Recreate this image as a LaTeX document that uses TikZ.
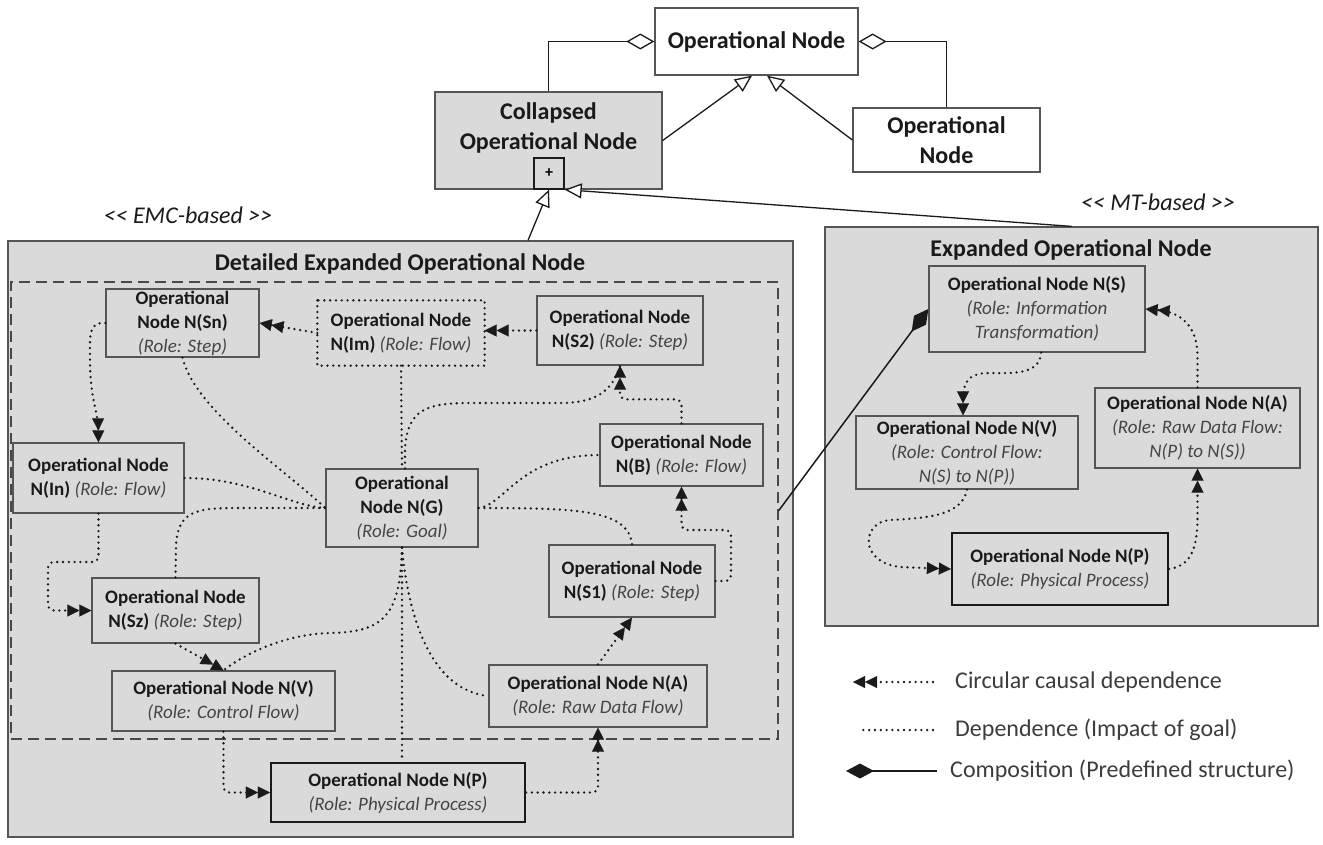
\documentclass[tikz,border=0pt]{standalone}
\usepackage{fontspec}
\setmainfont{Carlito}
\usetikzlibrary{arrows.meta}
\definecolor{panelc}{HTML}{DADADA}
\definecolor{bordc}{HTML}{555555}
\definecolor{txtc}{HTML}{1A1A1A}
\definecolor{rolec}{HTML}{454545}
\newcommand{\rl}[1]{{\mdseries\itshape\color{rolec}#1}}
\begin{document}
\begin{tikzpicture}[x=1pt,y=-1pt,
  dotl/.style={draw=txtc, line width=2.6pt, dash pattern=on 0pt off 5.8pt, line cap=round},
  dbl/.style={-{Triangle[length=12pt,width=12pt,line width=0.1pt]Triangle[length=12pt,width=12pt,line width=0.1pt]}},
  dep/.style={dotl},
  causal/.style={dotl, dbl},
  panel/.style={draw=bordc, fill=panelc, line width=1.3pt, inner sep=0pt},
  opn/.style={draw=bordc, fill=panelc, line width=1.3pt, align=center, inner sep=0pt, text=txtc,
     font=\fontsize{19}{24}\selectfont\bfseries},
  opnp/.style={opn, draw=txtc, line width=2.2pt},
  topn/.style={draw=bordc, line width=1.3pt, align=center, inner sep=0pt, text=txtc,
     font=\fontsize{24}{30}\selectfont\bfseries},
  ttl/.style={text=txtc, font=\fontsize{24}{30}\selectfont\bfseries, inner sep=0pt},
  lbl/.style={text=txtc, font=\fontsize{24}{30}\selectfont\itshape, inner sep=0pt},
  leg/.style={text=txtc!85!white, font=\fontsize{24}{30}\selectfont, inner sep=0pt, anchor=west},
  gen/.style={draw=txtc, line width=1.3pt, -{Triangle[fill=white, length=17pt, width=15pt]}},
  agg/.style={draw=txtc, line width=1.3pt, {Diamond[fill=white, length=28pt, width=16pt]}-},
  comp/.style={draw=txtc, line width=1.5pt, {Diamond[length=28pt, width=15pt]}-},
  dashbox/.style={draw=txtc!80!white, line width=1.6pt, dash pattern=on 11pt off 6pt, inner sep=0pt}
]
\useasboundingbox (0,0) rectangle (1323,844);

% ---------- top part ----------
\node[topn, fill=white, minimum width=203, minimum height=67] (Top) at (756.5,41.5) {Operational Node};
\node[topn, fill=panelc, minimum width=227, minimum height=97] (Col) at (548.5,140.5) {};
\node[ttl, align=center] (ColT) at (548.5,128) {Collapsed\\Operational Node};
\node[draw=txtc, line width=1.3pt, fill=panelc, minimum width=30, minimum height=31, inner sep=0pt,
      font=\fontsize{16}{18}\selectfont\bfseries] (Plus) at (549,173.5) {+};
\node[topn, fill=white, minimum width=187, minimum height=64] (ROp) at (946.5,140) {Operational\\Node};

\draw[agg] (Top.west) -| (Col.north);
\draw[agg] (Top.east) -| (ROp.north);
\draw[gen] (Col.east) -- ([xshift=-4.5pt]Top.south);
\draw[gen] (ROp.west) -- ([xshift=10.5pt]Top.south);

\node[lbl] (emc) at (188,215) {<\kern0pt< EMC-based >\kern0pt>};
\node[lbl] (mt) at (1158,202) {<\kern0pt< MT-based >\kern0pt>};

% ---------- left panel ----------
\node[panel, minimum width=785, minimum height=596] (LP) at (400.5,539) {};
\node[ttl] (LPT) at (400,264) {Detailed Expanded Operational Node};
\node[dashbox, minimum width=767, minimum height=457] (DB) at (394.5,510.5) {};

\node[opn, minimum width=153, minimum height=68] (Sn) at (182.5,323) {Operational\\Node N(Sn)\\\rl{(Role: Step)}};
\node[opn, draw=none, minimum width=166, minimum height=64] (Im) at (401,333) {Operational Node\\N(Im) \rl{(Role: Flow)}};
\draw[dotl] (Im.north west) rectangle (Im.south east);
\node[opn, minimum width=166, minimum height=69] (S2) at (620,330.5) {Operational Node\\N(S2) \rl{(Role: Step)}};
\node[opn, minimum width=171, minimum height=70] (In) at (98.5,478) {Operational Node\\N(In) \rl{(Role: Flow)}};
\node[opn, minimum width=152, minimum height=78] (G) at (402,508) {Operational\\Node N(G)\\\rl{(Role: Goal)}};
\node[opn, minimum width=163, minimum height=62] (B) at (681.5,455) {Operational Node\\N(B) \rl{(Role: Flow)}};
\node[opn, minimum width=166, minimum height=72] (S1) at (632,581) {Operational Node\\N(S1) \rl{(Role: Step)}};
\node[opn, minimum width=167, minimum height=65] (Sz) at (175.5,610.5) {Operational Node\\N(Sz) \rl{(Role: Step)}};
\node[opn, minimum width=223, minimum height=60] (V) at (223.5,701) {Operational Node N(V)\\\rl{(Role: Control Flow)}};
\node[opn, minimum width=218, minimum height=62] (A) at (598,696) {Operational Node N(A)\\\rl{(Role: Raw Data Flow)}};
\node[opnp, minimum width=254, minimum height=59] (P) at (398,792.5) {Operational Node N(P)\\\rl{(Role: Physical Process)}};

% dependence (impact of goal)
\draw[dep] (In.east) .. controls (250,478) and (290,506) .. (G.west);
\draw[dep] (Sn.south) .. controls (195,410) and (285,470) .. (G.west);
\draw[dep] (Sz.north) -- (176,545) .. controls (178,512) and (195,508) .. (235,508) -- (G.west);
\draw[dep] (Im.south) -- (G.north);
\draw[dep] ([xshift=3pt]G.north) -- (405,448) .. controls (408,410) and (425,403) .. (470,403) -- (560,403) .. controls (595,403) and (612,392) .. (S2.south);
\draw[dep] (G.east) .. controls (505,505) and (520,455) .. (B.west);
\draw[dep] (G.east) .. controls (580,508) and (628,510) .. (S1.north);
\draw[dep] (G.south) -- (G.south |- P.north);
\draw[dep] (G.south) .. controls (400,615) and (385,632) .. (330,633) .. controls (290,634) and (250,650) .. (V.north);
\draw[dep] (G.south) .. controls (408,615) and (430,690) .. (A.west);

% circular causal dependence
\draw[causal] (S2.west) -- (S2.west -| Im.east);
\draw[causal] (Im.west) -- (Sn.east);
\draw[causal] (Sn.west) .. controls (88,322) and (90,335) .. (90,360) .. controls (90,400) and (98,410) .. (In.north);
\draw[causal, rounded corners=6pt] (In.south) |- (48,562) |- (Sz.west);
\draw[causal] (Sz.south) -- (V.north);
\draw[causal, rounded corners=6pt] (V.south) |- (P.west);
\draw[causal, rounded corners=6pt] (P.east) -| (A.south);
\draw[causal] (A.north) -- (S1.south);
\draw[causal, rounded corners=6pt] (S1.east) -| (731,530) -| (B.south);
\draw[causal, rounded corners=6pt] (B.north) -- ++(0,-24) -| (S2.south);

% ---------- right panel ----------
\node[panel, minimum width=493, minimum height=399] (RP0) at (1071.5,426.5) {};
\node[ttl] (RPT) at (1071,250) {Expanded Operational Node};
\node[opn, minimum width=216, minimum height=86] (NS) at (1037,309) {Operational Node N(S)\\\rl{(Role: Information}\\\rl{Transformation)}};
\node[opn, minimum width=222, minimum height=73] (RV) at (967,452.5) {Operational Node N(V)\\\rl{(Role: Control Flow:}\\\rl{N(S) to N(P))}};
\node[opn, minimum width=205, minimum height=80] (RA) at (1197.5,428) {Operational Node N(A)\\\rl{(Role: Raw Data Flow:}\\\rl{N(P) to N(S))}};
\node[opnp, minimum width=216, minimum height=72] (RPn) at (1060,569) {Operational Node N(P)\\\rl{(Role: Physical Process)}};

\draw[causal] ([xshift=4pt]NS.south) .. controls (1040,372) and (1020,374) .. (990,373) .. controls (965,373) and (963,385) .. ([xshift=-4pt]RV.north);
\draw[causal] (RV.south) .. controls (962,515) and (930,518) .. (890,520) .. controls (862,522) and (858,562) .. (900,567) -- (RPn.west);
\draw[causal] (RPn.east) .. controls (1190,566) and (1197,550) .. (1197.5,520) -- (RA.south);
\draw[causal] (RA.north) -- (1197.5,355) .. controls (1197,325) and (1180,312) .. (NS.east);

% composition and generalisations to the collapsed node
\draw[comp] (NS.west) -- (DB.east);
\draw[gen] ([xshift=127.5pt]LP.north) -- (Plus.south);
\draw[gen] (RP0.north) -- (Plus.south east);

% ---------- legend ----------
\node[leg] (L1) at (955,682) {Circular causal dependence};
\node[leg] (L2) at (955,730) {Dependence (Impact of goal)};
\node[leg] (L3) at (950,771) {Composition (Predefined structure)};
\coordinate (L1a) at (933,682); \coordinate (L1b) at (853,682);
\coordinate (L2a) at (933,730); \coordinate (L2b) at (858,730);
\coordinate (L3a) at (937,771); \coordinate (L3b) at (846,771);
\draw[causal] (L1a) -- (L1b);
\draw[dep] (L2a) -- (L2b);
\draw[comp] (L3b) -- (L3a);
\end{tikzpicture}
\end{document}
